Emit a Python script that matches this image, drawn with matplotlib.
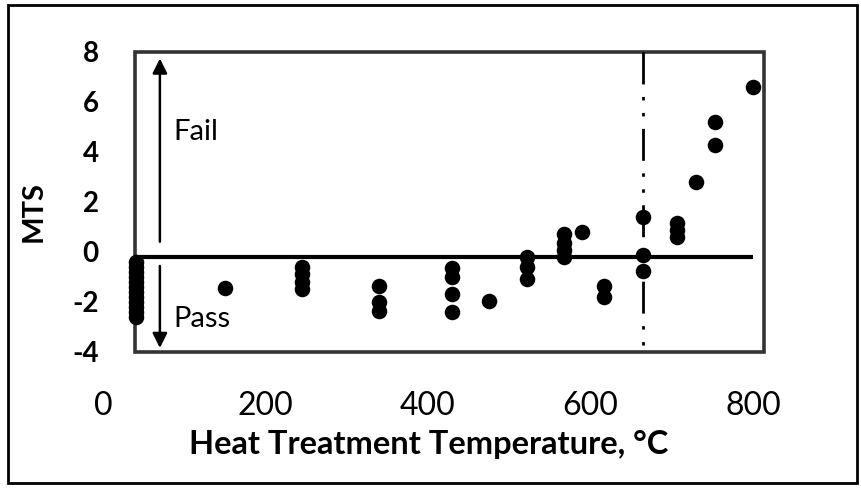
import matplotlib.pyplot as plt
from matplotlib.patches import Rectangle

plt.rcParams['font.family'] = ['Lato', 'DejaVu Sans']
plt.rcParams['lines.scale_dashes'] = False
plt.rcParams['axes.unicode_minus'] = False

# heat treatment temperature (C) and MTS values
temps = [40] * 12 + [150] + [245] * 4 + [340] * 3 + [430] * 4 + [475] + [522] * 3 \
    + [567] * 4 + [590] + [616] * 2 + [665] * 3 + [707] * 3 + [730] + [753] * 2 + [800]
mts = [-0.4, -0.6, -0.8, -1.0, -1.2, -1.4, -1.6, -1.8, -2.0, -2.2, -2.4, -2.6,
       -1.45,
       -0.6, -0.9, -1.2, -1.5,
       -1.35, -2.0, -2.35,
       -0.65, -1.0, -1.7, -2.4,
       -1.95,
       -0.2, -0.6, -1.1,
       0.72, 0.36, 0.08, -0.2,
       0.8,
       -1.35, -1.8,
       1.4, -0.12, -0.76,
       1.16, 0.88, 0.6,
       2.8,
       5.2, 4.28,
       6.6]

threshold = -0.2
limit_temp = 665
xticks = [0, 200, 400, 600, 800]
yticks = [-4, -2, 0, 2, 4, 6, 8]

fig = plt.figure(figsize=(8.62, 4.88), dpi=100)
ax = fig.add_axes([0.1195, 0.2787, 0.7668, 0.6148])
ax.set_xlim(0, 813.5)
ax.set_ylim(-4, 8)
for s in ax.spines.values():
    s.set_visible(False)

# plot area box (starts at the lowest temperature)
ax.add_patch(Rectangle((39.4, -4), 813.5 - 39.4, 12, fill=False,
                       edgecolor='#333333', lw=2.6, clip_on=False, zorder=1))

ax.plot([40, 800], [threshold, threshold], color='black', lw=3, zorder=2,
        solid_capstyle='butt')
ax.plot([limit_temp, limit_temp], [8, -4], color='black', lw=2.0, zorder=2,
        linestyle=(0, (23, 9, 2.5, 9, 2.5, 9)))

ax.scatter(temps, mts, s=125, color='black', zorder=3, linewidths=0)

arrow = dict(arrowstyle='-|>', color='black', lw=1.8, mutation_scale=22)
ax.annotate('', xy=(70, 7.85), xytext=(70, 0.3), arrowprops=arrow)
ax.annotate('', xy=(70, -3.95), xytext=(70, -0.45), arrowprops=arrow)
ax.text(86, 4.78, 'Fail', fontsize=21, va='center', ha='left')
ax.text(86, -2.68, 'Pass', fontsize=21, va='center', ha='left')

ax.set_xticks(xticks)
ax.set_yticks(yticks)
ax.tick_params(axis='x', length=0, pad=28, labelsize=23)
ax.tick_params(axis='y', length=0, pad=3, labelsize=20)
for lab in ax.get_yticklabels():
    lab.set_fontweight('bold')

ax.set_xlabel('Heat Treatment Temperature, °C', fontsize=23.5, fontweight='bold')
ax.xaxis.set_label_coords(0.492, -0.26)
ax.set_ylabel('MTS', fontsize=21, fontweight='bold')
ax.yaxis.set_label_coords(-0.086, 0.467)

# outer chart frame
fig.patches.append(Rectangle((8 / 862, 5 / 488), 849 / 862, 478 / 488,
                             transform=fig.transFigure, fill=False,
                             edgecolor='black', lw=2))

fig.savefig('out.png', dpi=100)
